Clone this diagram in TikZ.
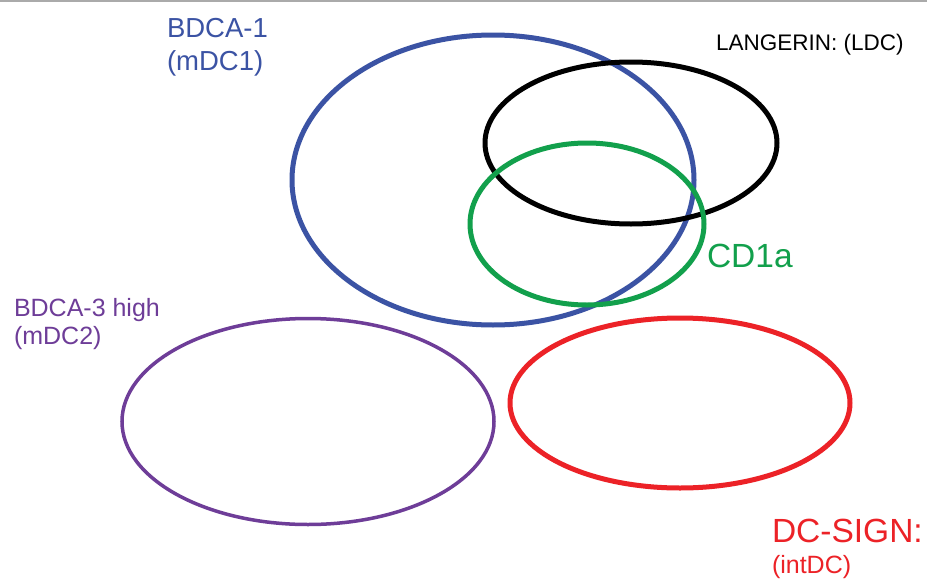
\documentclass[tikz,border=0pt]{standalone}
\usepackage{fontspec}
\setmainfont{Liberation Sans}
\definecolor{cblue}{HTML}{3B53A4}
\definecolor{cgreen}{HTML}{12A04C}
\definecolor{cpurple}{HTML}{6E3D98}
\definecolor{cred}{HTML}{EC2227}
\definecolor{cgrey}{HTML}{AAAAAA}
\begin{document}
\begin{tikzpicture}[x=1pt,y=-1pt,
  ring/.style={line width=5pt},
  lab/.style={anchor=base west,inner sep=0pt,outer sep=0pt}]
\useasboundingbox (0,0) rectangle (927,581);
\fill[white] (0,0) rectangle (927,581);
\draw[cgrey,line width=1.6pt] (0,1) -- (927,1);
% ellipses
\draw[ring,cblue] (493,180) ellipse [x radius=201, y radius=145];
\draw[ring,black] (631,143) ellipse [x radius=146, y radius=81];
\draw[ring,cgreen] (587,224) ellipse [x radius=117, y radius=81];
\draw[cpurple,line width=3.5pt] (308,421.5) ellipse [x radius=186, y radius=103];
\draw[ring,cred] (680,403) ellipse [x radius=170, y radius=85];
% labels
\node[lab,cblue,font=\fontsize{27.5}{30}\selectfont] (l1) at (167,37) {BDCA-1};
\node[lab,cblue,font=\fontsize{27.5}{30}\selectfont] (l1b) at (167,70) {(mDC1)};
\node[lab,black,font=\fontsize{22.5}{24}\selectfont] (l2) at (716,50) {LANGERIN: (LDC)};
\node[lab,cpurple,font=\fontsize{25}{26}\selectfont] (l3) at (14,316) {BDCA-3 high};
\node[lab,cpurple,font=\fontsize{25}{26}\selectfont] (l3b) at (14,344) {(mDC2)};
\node[lab,cgreen,font=\fontsize{33.5}{36}\selectfont] (l4) at (707,267) {CD1a};
\node[lab,cred,font=\fontsize{33.5}{38}\selectfont] (l5) at (772,542) {DC-SIGN:};
\node[lab,cred,font=\fontsize{25}{28}\selectfont] (l5b) at (772,573) {(intDC)};
\end{tikzpicture}
\end{document}
